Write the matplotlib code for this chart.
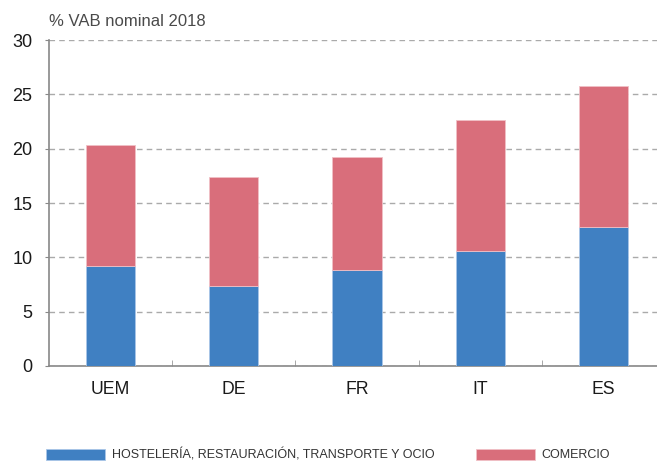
import matplotlib
matplotlib.use("Agg")
import matplotlib.pyplot as plt
import numpy as np

categories = ["UEM", "DE", "FR", "IT", "ES"]
hosteleria = [9.2, 7.4, 8.8, 10.6, 12.8]
comercio_total = [20.3, 17.4, 19.2, 22.6, 25.8]
comercio = [t - h for t, h in zip(comercio_total, hosteleria)]
series_names = ["HOSTELERÍA, RESTAURACIÓN, TRANSPORTE Y OCIO", "COMERCIO"]
yticks = [0, 5, 10, 15, 20, 25, 30]
title = "% VAB nominal 2018"

blue = "#4080C2"
red = "#D96E7B"
plt.rcParams["font.family"] = ["Liberation Sans", "DejaVu Sans"]

fig = plt.figure(figsize=(6.57, 4.62), dpi=100)
ax = fig.add_axes([49/657, 1 - 366/462, (665-49)/657, (366-40)/462])
x = np.arange(len(categories))
b1 = ax.bar(x, hosteleria, width=0.4, color=blue, edgecolor="#A9C6E8", linewidth=0.6, zorder=3)
b2 = ax.bar(x, comercio, bottom=hosteleria, width=0.4, color=red, edgecolor="#F0C0C6", linewidth=0.6, zorder=3)

ax.set_xlim(-0.5, 4.5)
ax.set_ylim(0, 30)
ax.set_yticks(yticks)
ax.set_yticklabels([str(v) for v in yticks], fontsize=13, color="#1a1a1a")
ax.yaxis.grid(True, linestyle=(0, (4, 3)), color="#AAAAAA", linewidth=1, zorder=0)
ax.set_axisbelow(True)
ax.set_xticks(x)
ax.set_xticklabels(categories, fontsize=12.7, color="#1a1a1a")
ax.tick_params(axis="x", length=0, pad=11)
ax.set_xticks(np.arange(len(categories) - 1) + 0.5, minor=True)
ax.tick_params(axis="x", which="minor", direction="in", length=4, color="#999999")
ax.tick_params(axis="y", length=3, color="#888888", pad=9)
for s in ["top", "right"]:
    ax.spines[s].set_visible(False)
for s in ["left", "bottom"]:
    ax.spines[s].set_color("#888888")
    ax.spines[s].set_linewidth(1.2)

fig.text(49/657, 1 - 22/462, title, fontsize=12, color="#4a4a4a", va="center", ha="left")

leg = fig.legend([b1, b2], series_names, loc="center left", bbox_to_anchor=(35/657, 1 - 455/462),
                 ncol=2, frameon=False, handlelength=4.7, handleheight=0.95, handletextpad=0.55,
                 columnspacing=3.3, prop={"family": ["Liberation Sans"], "size": 9})
for t in leg.get_texts():
    t.set_color("#333333")

fig.savefig("out.png", dpi=100)
